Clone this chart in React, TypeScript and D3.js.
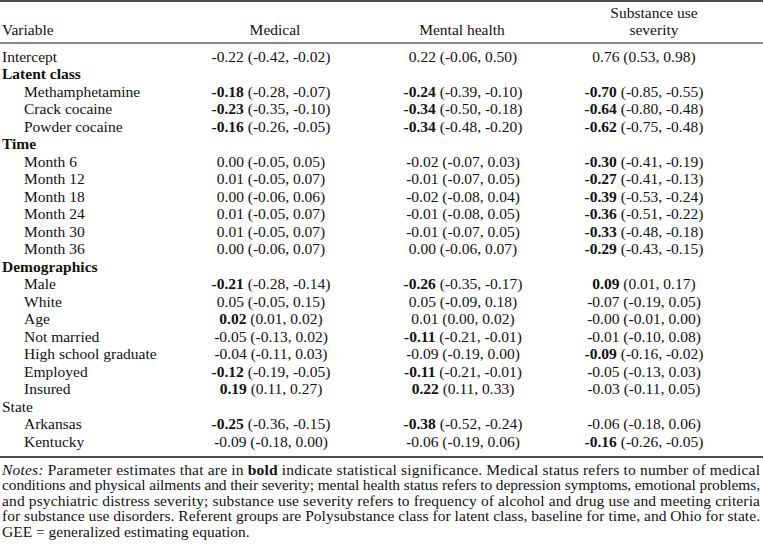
import React from "react";
import * as d3 from "d3";

const headers = ["Medical", "Mental health", "Substance use severity"];

const variables = [
  "Intercept", "Latent class", "Methamphetamine", "Crack cocaine", "Powder cocaine",
  "Time", "Month 6", "Month 12", "Month 18", "Month 24", "Month 30", "Month 36",
  "Demographics", "Male", "White", "Age", "Not married", "High school graduate",
  "Employed", "Insured", "State", "Arkansas", "Kentucky",
];

// plain = top-level row, group = bold section label, section = plain section label, sub = indented
const rowKinds = [
  "plain", "group", "sub", "sub", "sub",
  "group", "sub", "sub", "sub", "sub", "sub", "sub",
  "group", "sub", "sub", "sub", "sub", "sub",
  "sub", "sub", "section", "sub", "sub",
];

const medicalEst = ["-0.22", "", "-0.18", "-0.23", "-0.16", "", "0.00", "0.01", "0.00", "0.01", "0.01", "0.00", "", "-0.21", "0.05", "0.02", "-0.05", "-0.04", "-0.12", "0.19", "", "-0.25", "-0.09"];
const medicalCI = ["(-0.42, -0.02)", "", "(-0.28, -0.07)", "(-0.35, -0.10)", "(-0.26, -0.05)", "", "(-0.05, 0.05)", "(-0.05, 0.07)", "(-0.06, 0.06)", "(-0.05, 0.07)", "(-0.05, 0.07)", "(-0.06, 0.07)", "", "(-0.28, -0.14)", "(-0.05, 0.15)", "(0.01, 0.02)", "(-0.13, 0.02)", "(-0.11, 0.03)", "(-0.19, -0.05)", "(0.11, 0.27)", "", "(-0.36, -0.15)", "(-0.18, 0.00)"];
const medicalSig = [0, 0, 1, 1, 1, 0, 0, 0, 0, 0, 0, 0, 0, 1, 0, 1, 0, 0, 1, 1, 0, 1, 0];

const mentalEst = ["0.22", "", "-0.24", "-0.34", "-0.34", "", "-0.02", "-0.01", "-0.02", "-0.01", "-0.01", "0.00", "", "-0.26", "0.05", "0.01", "-0.11", "-0.09", "-0.11", "0.22", "", "-0.38", "-0.06"];
const mentalCI = ["(-0.06, 0.50)", "", "(-0.39, -0.10)", "(-0.50, -0.18)", "(-0.48, -0.20)", "", "(-0.07, 0.03)", "(-0.07, 0.05)", "(-0.08, 0.04)", "(-0.08, 0.05)", "(-0.07, 0.05)", "(-0.06, 0.07)", "", "(-0.35, -0.17)", "(-0.09, 0.18)", "(0.00, 0.02)", "(-0.21, -0.01)", "(-0.19, 0.00)", "(-0.21, -0.01)", "(0.11, 0.33)", "", "(-0.52, -0.24)", "(-0.19, 0.06)"];
const mentalSig = [0, 0, 1, 1, 1, 0, 0, 0, 0, 0, 0, 0, 0, 1, 0, 0, 1, 0, 1, 1, 0, 1, 0];

const substanceEst = ["0.76", "", "-0.70", "-0.64", "-0.62", "", "-0.30", "-0.27", "-0.39", "-0.36", "-0.33", "-0.29", "", "0.09", "-0.07", "-0.00", "-0.01", "-0.09", "-0.05", "-0.03", "", "-0.06", "-0.16"];
const substanceCI = ["(0.53, 0.98)", "", "(-0.85, -0.55)", "(-0.80, -0.48)", "(-0.75, -0.48)", "", "(-0.41, -0.19)", "(-0.41, -0.13)", "(-0.53, -0.24)", "(-0.51, -0.22)", "(-0.48, -0.18)", "(-0.43, -0.15)", "", "(0.01, 0.17)", "(-0.19, 0.05)", "(-0.01, 0.00)", "(-0.10, 0.08)", "(-0.16, -0.02)", "(-0.13, 0.03)", "(-0.11, 0.05)", "", "(-0.18, 0.06)", "(-0.26, -0.05)"];
const substanceSig = [0, 0, 1, 1, 1, 0, 1, 1, 1, 1, 1, 1, 0, 1, 0, 0, 0, 1, 0, 0, 0, 0, 1];

const noteLines = [
  "conditions and physical ailments and their severity; mental health status refers to depression symptoms, emotional problems,",
  "and psychiatric distress severity; substance use severity refers to frequency of alcohol and drug use and meeting criteria",
  "for substance use disorders. Referent groups are Polysubstance class for latent class, baseline for time, and Ohio for state.",
];
const lastNote = "GEE = generalized estimating equation.";

const W = 763;
const H = 549;
const FONT = "'Liberation Serif', 'Times New Roman', serif";

export default function App() {
  const y = d3.scaleLinear().domain([0, variables.length - 1]).range([61.5, 446.5]);
  const colX = d3.scaleOrdinal<number, number>().domain([0, 1, 2]).range([271, 463, 644]);
  const headX = d3.scaleOrdinal<number, number>().domain([0, 1, 2]).range([275, 462, 654]);
  const cols = [
    { est: medicalEst, ci: medicalCI, sig: medicalSig },
    { est: mentalEst, ci: mentalCI, sig: mentalSig },
    { est: substanceEst, ci: substanceCI, sig: substanceSig },
  ];
  const noteY = d3.scaleLinear().domain([0, 4]).range([474.5, 537]);

  return (
    <svg
      width={W}
      height={H}
      style={{ position: "absolute", left: 0, top: 0, background: "#fff" }}
      fontFamily={FONT}
      fontSize={15.5}
      fill="#111"
    >
      <rect width={W} height={H} fill="#fff" />
      <line x1={0} x2={W} y1={1} y2={1} stroke="#111" strokeWidth={1.5} />
      <line x1={0} x2={W} y1={43} y2={43} stroke="#111" strokeWidth={1.2} />
      <line x1={0} x2={W} y1={457} y2={457} stroke="#111" strokeWidth={1.5} />

      <text x={2} y={35}>Variable</text>
      <text x={headX(0)} y={35} textAnchor="middle">{headers[0]}</text>
      <text x={headX(1)} y={35} textAnchor="middle">{headers[1]}</text>
      <text x={headX(2)} y={18} textAnchor="middle">Substance use</text>
      <text x={headX(2)} y={35} textAnchor="middle">severity</text>

      {variables.map((v, i) => (
        <g key={v}>
          <text
            x={rowKinds[i] === "sub" ? 24 : 2}
            y={y(i)}
            fontWeight={rowKinds[i] === "group" ? "bold" : "normal"}
          >
            {v}
          </text>
          {cols.map((c, j) =>
            c.est[i] ? (
              <text key={j} x={colX(j)} y={y(i)} textAnchor="middle">
                <tspan fontWeight={c.sig[i] ? "bold" : "normal"}>{c.est[i]}</tspan>
                <tspan>{" " + c.ci[i]}</tspan>
              </text>
            ) : null
          )}
        </g>
      ))}

      <text x={2} y={noteY(0)} textLength={758} lengthAdjust="spacing">
        <tspan fontStyle="italic">Notes:</tspan>
        <tspan> Parameter estimates that are in </tspan>
        <tspan fontWeight="bold">bold</tspan>
        <tspan> indicate statistical significance. Medical status refers to number of medical</tspan>
      </text>
      {noteLines.map((t, i) => (
        <text key={i} x={2} y={noteY(i + 1)} textLength={758} lengthAdjust="spacing">
          {t}
        </text>
      ))}
      <text x={2} y={noteY(4)}>{lastNote}</text>
    </svg>
  );
}
